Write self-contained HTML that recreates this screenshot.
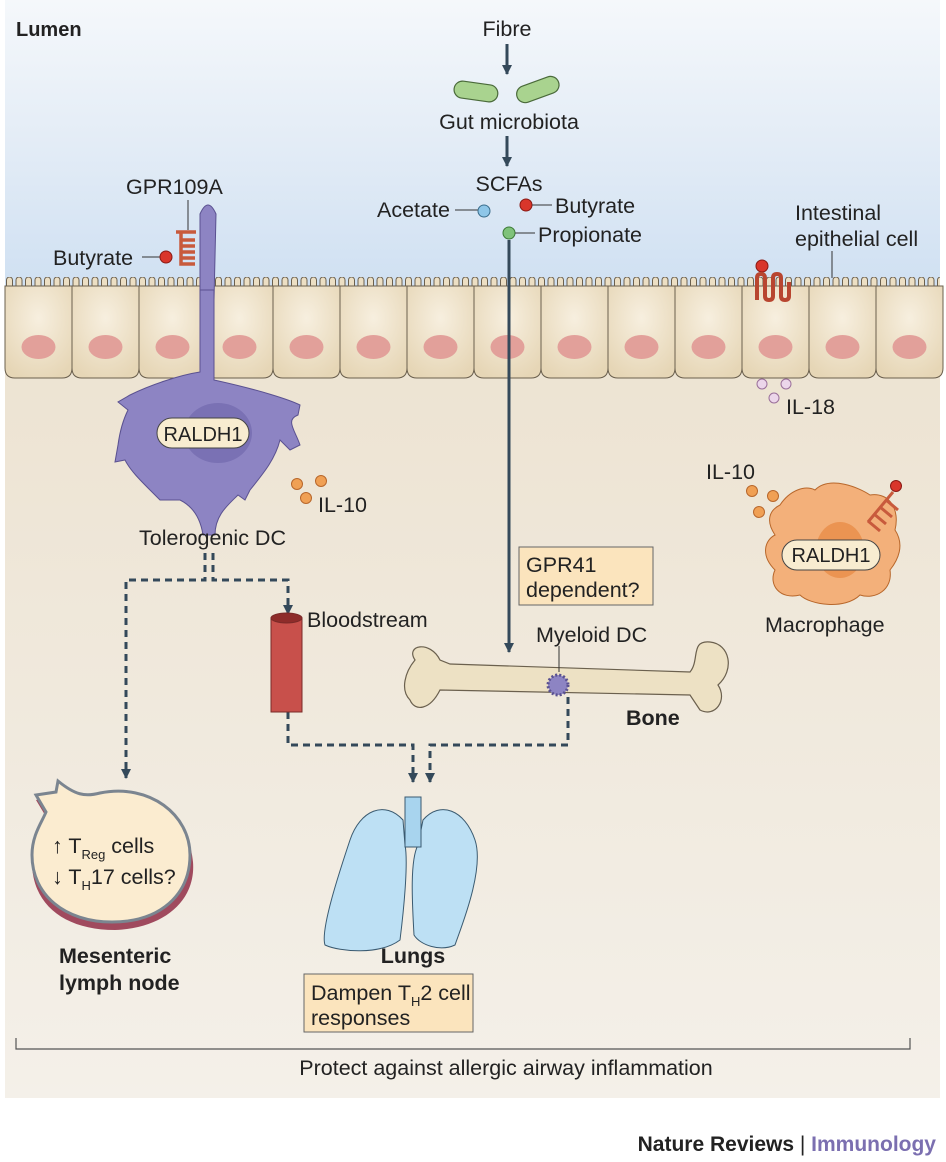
<!DOCTYPE html>
<html><head><meta charset="utf-8"><style>
html,body{margin:0;padding:0;background:#fff;}
svg{display:block;font-family:"Liberation Sans",sans-serif;}
text{fill:#222;font-size:21.5px;}
</style></head><body>
<svg width="946" height="1162" viewBox="0 0 946 1162" xmlns="http://www.w3.org/2000/svg">
<defs>
<linearGradient id="lumen" x1="0" y1="0" x2="0" y2="1">
<stop offset="0" stop-color="#f5f8fb"/><stop offset="0.5" stop-color="#e3ecf6"/><stop offset="1" stop-color="#cfe0f2"/>
</linearGradient>
<linearGradient id="tissue" x1="0" y1="0" x2="0" y2="1">
<stop offset="0" stop-color="#ece2d0"/><stop offset="1" stop-color="#f4f0e9"/>
</linearGradient>
<radialGradient id="cellg" cx="0.5" cy="0.35" r="0.7">
<stop offset="0" stop-color="#f7efdf"/><stop offset="1" stop-color="#e6d6b6"/>
</radialGradient>
<pattern id="villi" x="5" y="276" width="9.5" height="14" patternUnits="userSpaceOnUse">
<rect x="1.5" y="1" width="6" height="16" rx="3" fill="#ecdfc4" stroke="#6b604e" stroke-width="1"/>
</pattern>
<g id="cell">
<path d="M0,286 L0,368 Q0,378 10,378 L57,378 Q67,378 67,368 L67,286 Z" fill="url(#cellg)" stroke="#6b604e" stroke-width="1"/>
<ellipse cx="33.5" cy="347" rx="17" ry="12" fill="#e2a09a"/>
</g>
<marker id="ah" markerWidth="12" markerHeight="12" refX="9" refY="5" orient="auto" markerUnits="userSpaceOnUse">
<path d="M0,0 L10,5 L0,10 Z" fill="#34495a"/>
</marker>
</defs>

<rect x="5" y="0" width="935" height="290" fill="url(#lumen)"/>
<rect x="5" y="290" width="935" height="808" fill="url(#tissue)"/>

<rect x="5" y="277" width="935" height="12" fill="url(#villi)"/>
<g>
<use href="#cell" x="5"/><use href="#cell" x="72"/><use href="#cell" x="139"/><use href="#cell" x="206"/>
<use href="#cell" x="273"/><use href="#cell" x="340"/><use href="#cell" x="407"/><use href="#cell" x="474"/>
<use href="#cell" x="541"/><use href="#cell" x="608"/><use href="#cell" x="675"/><use href="#cell" x="742"/>
<use href="#cell" x="809"/><use href="#cell" x="876"/>
</g>

<text x="16" y="36" font-weight="bold" style="font-size:20px">Lumen</text>

<text x="507" y="36" text-anchor="middle">Fibre</text>
<line x1="507" y1="44" x2="507" y2="74" stroke="#34495a" stroke-width="3" marker-end="url(#ah)"/>
<g stroke="#4a6a3a" stroke-width="1.2">
<rect x="454" y="83" width="44" height="17" rx="8.5" fill="#a9d38f" transform="rotate(8 476 91)"/>
<rect x="516" y="81" width="44" height="17" rx="8.5" fill="#a9d38f" transform="rotate(-20 538 90)"/>
</g>
<text x="509" y="129" text-anchor="middle">Gut microbiota</text>
<line x1="507" y1="136" x2="507" y2="166" stroke="#34495a" stroke-width="3" marker-end="url(#ah)"/>
<text x="509" y="191" text-anchor="middle">SCFAs</text>
<text x="377" y="217">Acetate</text>
<line x1="455" y1="210" x2="478" y2="210" stroke="#333"/>
<circle cx="484" cy="211" r="6" fill="#8ec6e8" stroke="#3a6d8c"/>
<circle cx="526" cy="205" r="6" fill="#d9362b" stroke="#8a1a14"/>
<line x1="532" y1="205" x2="552" y2="205" stroke="#333"/>
<text x="555" y="213">Butyrate</text>
<circle cx="509" cy="233" r="6" fill="#7fc27a" stroke="#3b7a36"/>
<line x1="515" y1="233" x2="535" y2="233" stroke="#333"/>
<text x="538" y="242">Propionate</text>
<line x1="509" y1="240" x2="509" y2="652" stroke="#34495a" stroke-width="3" marker-end="url(#ah)"/>

<text x="795" y="220">Intestinal</text>
<text x="795" y="246">epithelial cell</text>
<line x1="832" y1="251" x2="832" y2="278" stroke="#333"/>
<circle cx="762" cy="266" r="6" fill="#d9362b" stroke="#8a1a14"/>
<path d="M757,300 L757,278 q0,-4 4,-4 q4,0 4,4 l0,18 q0,4 4,4 q4,0 4,-4 l0,-18 q0,-4 4,-4 q4,0 4,4 l0,18 q0,4 4,4 q4,0 4,-4 l0,-14" fill="none" stroke="#b8452f" stroke-width="4"/>
<circle cx="762" cy="384" r="5" fill="#ecd6ea" stroke="#9a6f9a"/>
<circle cx="786" cy="384" r="5" fill="#ecd6ea" stroke="#9a6f9a"/>
<circle cx="774" cy="398" r="5" fill="#ecd6ea" stroke="#9a6f9a"/>
<text x="786" y="414">IL-18</text>

<text x="126" y="194">GPR109A</text>
<line x1="188" y1="200" x2="188" y2="230" stroke="#333"/>
<path d="M200,214 Q208,196 216,214 L214,300 L200,300 Z" fill="#8d84c3" stroke="#5a5190"/>
<path d="M176,232 h20 M181,232 v8 h14 M181,240 v6 h14 M181,246 v6 h14 M181,252 v6 h14 M181,258 v6 h14" fill="none" stroke="#c85a3c" stroke-width="3.5"/>
<text x="53" y="265">Butyrate</text>
<line x1="142" y1="257" x2="160" y2="257" stroke="#333"/>
<circle cx="166" cy="257" r="6" fill="#d9362b" stroke="#8a1a14"/>
<path d="M200,290 L214,290 L214,380 C260,390 290,400 300,405 L298,415 C285,420 295,430 300,445 L290,450 L280,440 C275,460 262,475 250,490 L245,500 L238,495 C228,505 215,515 215,535 L203,535 C200,515 190,505 180,500 L160,500 L150,490 C140,480 130,470 125,460 L115,462 L118,445 C120,430 123,420 128,410 L118,402 L130,395 C150,385 180,375 200,372 Z" fill="#8d84c3" stroke="#5a5190"/>
<ellipse cx="218" cy="433" rx="34" ry="30" fill="#7a71b4"/>
<rect x="157" y="418" width="92" height="30" rx="15" fill="#f8ecd0" stroke="#444"/>
<text x="203" y="441" text-anchor="middle" style="font-size:20px">RALDH1</text>
<circle cx="297" cy="484" r="5.5" fill="#f0a054" stroke="#b8672b"/>
<circle cx="321" cy="481" r="5.5" fill="#f0a054" stroke="#b8672b"/>
<circle cx="306" cy="498" r="5.5" fill="#f0a054" stroke="#b8672b"/>
<text x="318" y="512">IL-10</text>
<text x="139" y="545">Tolerogenic DC</text>

<g fill="none" stroke="#34495a" stroke-width="3" stroke-dasharray="7,5">
<path d="M205,553 L205,580 L126,580 L126,778" marker-end="url(#ah)"/>
<path d="M213,553 L213,580 L288,580 L288,614" marker-end="url(#ah)"/>
<path d="M288,712 L288,745 L413,745 L413,782" marker-end="url(#ah)"/>
<path d="M568,697 L568,745 L430,745 L430,782" marker-end="url(#ah)"/>
</g>

<rect x="271" y="618" width="31" height="94" fill="#c8504b" stroke="#7a2a28"/>
<ellipse cx="286.5" cy="618" rx="15.5" ry="5" fill="#8e2c2a" stroke="#7a2a28"/>
<text x="307" y="627">Bloodstream</text>

<rect x="519" y="547" width="134" height="58" fill="#fbe4bd" stroke="#666"/>
<text x="526" y="572">GPR41</text>
<text x="526" y="597">dependent?</text>

<path d="M415,660 C405,645 430,640 440,660 L450,664 L690,672 C700,660 690,640 710,642 C730,644 735,670 718,685 C728,700 715,718 700,710 L690,695 L440,690 C430,710 415,712 410,700 C400,690 405,672 415,660 Z" fill="#ede1c4" stroke="#6b604e" stroke-width="1.2"/>
<text x="536" y="642">Myeloid DC</text>
<line x1="559" y1="646" x2="559" y2="672" stroke="#333"/>
<circle cx="558" cy="685" r="10" fill="#8d84c3" stroke="#5a5190" stroke-width="3" stroke-dasharray="2,2"/>
<text x="626" y="725" font-weight="bold">Bone</text>

<text x="706" y="479">IL-10</text>
<circle cx="752" cy="491" r="5.5" fill="#f0a054" stroke="#b8672b"/>
<circle cx="773" cy="496" r="5.5" fill="#f0a054" stroke="#b8672b"/>
<circle cx="759" cy="512" r="5.5" fill="#f0a054" stroke="#b8672b"/>
<path d="M780,505 C790,490 805,485 815,490 C830,475 860,488 870,495 C890,492 900,510 895,530 C905,545 898,560 890,570 C893,590 875,600 860,595 C845,610 810,605 800,595 C780,600 768,585 775,570 C760,555 765,540 775,535 C765,520 770,510 780,505 Z" fill="#f3b07a" stroke="#b8672b"/>
<ellipse cx="840" cy="550" rx="24" ry="28" fill="#eb9452"/>
<rect x="782" y="540" width="98" height="30" rx="15" fill="#f8ecd0" stroke="#444"/>
<text x="831" y="562" text-anchor="middle" style="font-size:20px">RALDH1</text>
<circle cx="896" cy="486" r="5.5" fill="#d9362b" stroke="#8a1a14"/>
<path d="M893,492 l-25,30 M886,500 l12,10 M880,507 l12,10 M874,514 l12,10 M868,521 l12,10" fill="none" stroke="#c85a3c" stroke-width="3"/>
<text x="765" y="632">Macrophage</text>

<path d="M36,800 L56,795 L60,784 C75,795 85,800 100,795 C150,785 190,820 193,862 C196,900 165,928 115,930 C65,930 32,905 32,862 C32,840 42,825 45,815 Z" fill="#a04a5e"/>
<path d="M36,795 L56,792 L58,781 C75,795 85,797 100,793 C150,783 190,815 190,855 C190,895 160,922 112,922 C65,922 32,895 32,855 C32,835 42,822 46,812 Z" fill="#fbecd0" stroke="#7b8590" stroke-width="3"/>
<text x="52" y="853">↑ T<tspan style="font-size:13px" dy="6">Reg</tspan><tspan dy="-6"> cells</tspan></text>
<text x="52" y="884">↓ T<tspan style="font-size:13px" dy="6">H</tspan><tspan dy="-6">17 cells?</tspan></text>
<text x="59" y="963" font-weight="bold">Mesenteric</text>
<text x="59" y="990" font-weight="bold">lymph node</text>

<path d="M403,820 C385,800 360,810 350,840 C340,870 320,930 325,945 C340,952 380,955 400,940 C405,900 408,860 405,845 Z" fill="#bde0f4" stroke="#3a5a70"/>
<path d="M423,820 C440,800 465,810 475,840 C485,870 460,930 455,945 C440,952 420,945 414,935 C412,900 410,860 418,845 Z" fill="#bde0f4" stroke="#3a5a70"/>
<rect x="405" y="797" width="16" height="50" fill="#a8d4ee" stroke="#3a5a70"/>
<text x="413" y="963" font-weight="bold" text-anchor="middle">Lungs</text>
<rect x="304" y="974" width="169" height="58" fill="#fbe4bd" stroke="#666"/>
<text x="311" y="1000">Dampen T<tspan style="font-size:13px" dy="6">H</tspan><tspan dy="-6">2 cell</tspan></text>
<text x="311" y="1025">responses</text>

<path d="M16,1038 L16,1049 L910,1049 L910,1038" fill="none" stroke="#555" stroke-width="1.2"/>
<text x="506" y="1075" text-anchor="middle">Protect against allergic airway inflammation</text>

<text x="936" y="1151" text-anchor="end" style="font-size:21px"><tspan font-weight="bold">Nature Reviews</tspan> | <tspan font-weight="bold" style="fill:#7b6fb0">Immunology</tspan></text>
</svg>
</body></html>
